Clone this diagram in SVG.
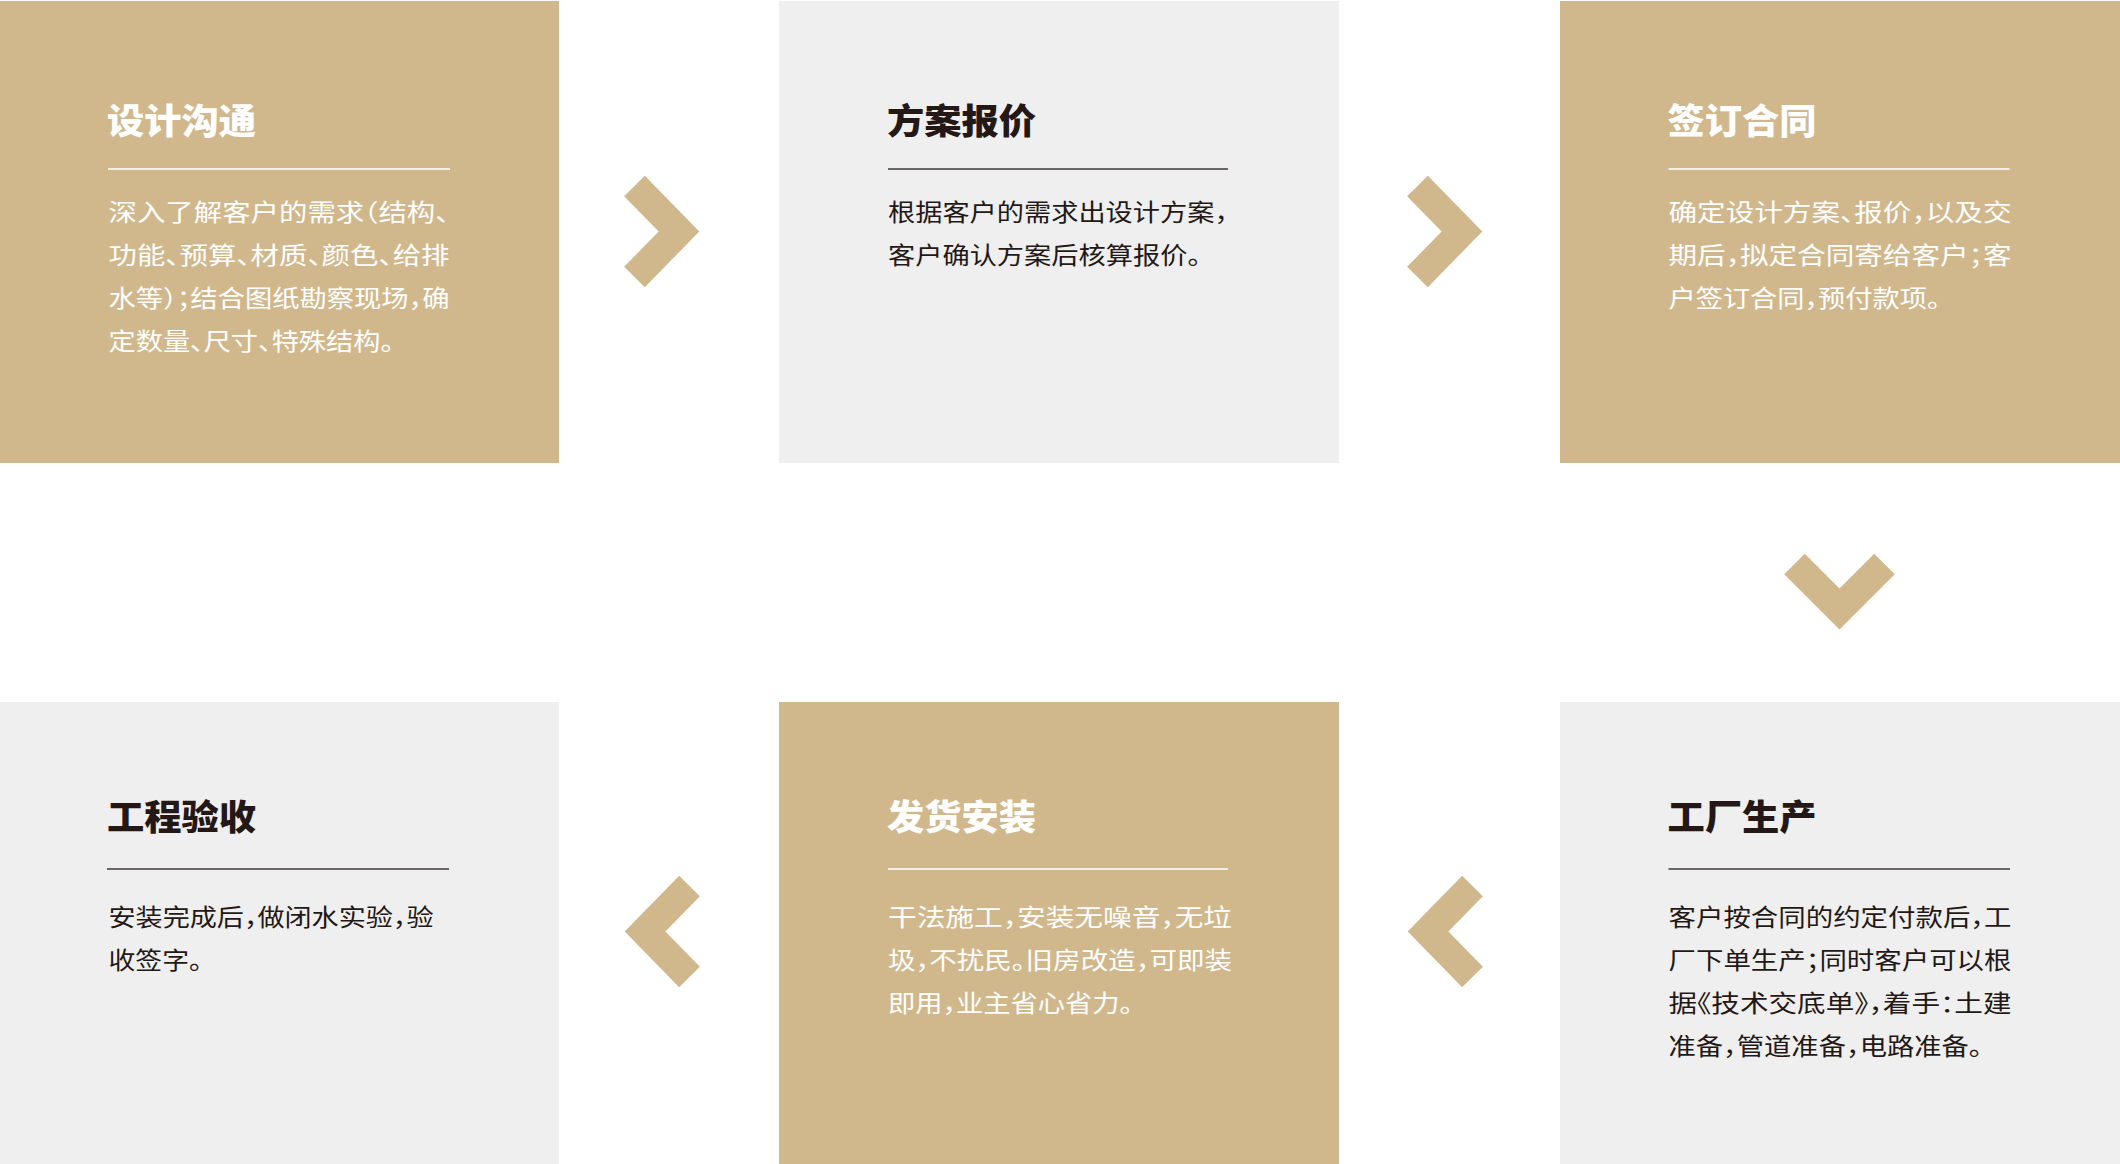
<svg xmlns="http://www.w3.org/2000/svg" width="2120" height="1164" viewBox="0 0 2120 1164">
<style>
.gold{fill:#D1B88C}
.gray{fill:#EFEFEF}
.t{font-family:"Noto Sans CJK SC","Noto Sans",sans-serif;font-size:35px;font-weight:900}
.b{font-family:"Noto Sans CJK SC","Noto Sans",sans-serif;font-size:24px;font-weight:400;font-feature-settings:"halt" 1}
.w{fill:#FFFFFF}
.d{fill:#231815}
.lw{stroke:#FFFFFF;stroke-width:1.6}
.ld{stroke:#3E3A39;stroke-width:1.6}
.chev{fill:none;stroke:#D1B88C;stroke-width:29;stroke-linecap:butt;stroke-linejoin:miter;stroke-miterlimit:10}
</style>
<rect x="0" y="0" width="2120" height="1164" fill="#FFFFFF"/>

<g id="node-1">
<rect class="gold" x="0" y="1" width="559" height="462"/>
<text class="t w" x="107" y="134" textLength="149" lengthAdjust="spacingAndGlyphs">设计沟通</text>
<line class="lw" x1="108" y1="169" x2="450" y2="169"/>
<text class="b w" x="108.5" y="221" textLength="341" lengthAdjust="spacingAndGlyphs">深入了解客户的需求（结构、</text>
<text class="b w" x="108.5" y="264" textLength="341" lengthAdjust="spacingAndGlyphs">功能、预算、材质、颜色、给排</text>
<text class="b w" x="108.5" y="307" textLength="341" lengthAdjust="spacingAndGlyphs">水等）；结合图纸勘察现场，确</text>
<text class="b w" x="108.5" y="350" textLength="285.5" lengthAdjust="spacingAndGlyphs">定数量、尺寸、特殊结构。</text>
</g>

<g id="node-2">
<rect class="gray" x="779" y="1" width="560" height="462"/>
<text class="t d" x="887" y="134" textLength="149" lengthAdjust="spacingAndGlyphs">方案报价</text>
<line class="ld" x1="888" y1="169" x2="1228" y2="169"/>
<text class="b d" x="888" y="221" textLength="340" lengthAdjust="spacingAndGlyphs">根据客户的需求出设计方案，</text>
<text class="b d" x="888" y="264" textLength="313" lengthAdjust="spacingAndGlyphs">客户确认方案后核算报价。</text>
</g>

<g id="node-3">
<rect class="gold" x="1560" y="1" width="560" height="462"/>
<text class="t w" x="1667.5" y="134" textLength="149" lengthAdjust="spacingAndGlyphs">签订合同</text>
<line class="lw" x1="1668.5" y1="169" x2="2009.5" y2="169"/>
<text class="b w" x="1668.5" y="221" textLength="343" lengthAdjust="spacingAndGlyphs">确定设计方案、报价，以及交</text>
<text class="b w" x="1668.5" y="264" textLength="343" lengthAdjust="spacingAndGlyphs">期后，拟定合同寄给客户；客</text>
<text class="b w" x="1668.5" y="307" textLength="272" lengthAdjust="spacingAndGlyphs">户签订合同，预付款项。</text>
</g>

<g id="node-4">
<rect class="gray" x="0" y="702" width="559" height="462"/>
<text class="t d" x="107" y="830" textLength="149" lengthAdjust="spacingAndGlyphs">工程验收</text>
<line class="ld" x1="107" y1="869" x2="449" y2="869"/>
<text class="b d" x="108.5" y="926" textLength="325" lengthAdjust="spacingAndGlyphs">安装完成后，做闭水实验，验</text>
<text class="b d" x="108.5" y="969" textLength="94" lengthAdjust="spacingAndGlyphs">收签字。</text>
</g>

<g id="node-5">
<rect class="gold" x="779" y="702" width="560" height="462"/>
<text class="t w" x="887" y="830" textLength="149" lengthAdjust="spacingAndGlyphs">发货安装</text>
<line class="lw" x1="888" y1="869" x2="1228" y2="869"/>
<text class="b w" x="888" y="926" textLength="344" lengthAdjust="spacingAndGlyphs">干法施工，安装无噪音，无垃</text>
<text class="b w" x="888" y="969" textLength="344" lengthAdjust="spacingAndGlyphs">圾，不扰民。旧房改造，可即装</text>
<text class="b w" x="888" y="1012" textLength="245" lengthAdjust="spacingAndGlyphs">即用，业主省心省力。</text>
</g>

<g id="node-6">
<rect class="gray" x="1560" y="702" width="560" height="462"/>
<text class="t d" x="1667.5" y="830" textLength="149" lengthAdjust="spacingAndGlyphs">工厂生产</text>
<line class="ld" x1="1668.5" y1="869" x2="2010" y2="869"/>
<text class="b d" x="1668.5" y="926" textLength="343" lengthAdjust="spacingAndGlyphs">客户按合同的约定付款后，工</text>
<text class="b d" x="1668.5" y="969" textLength="343" lengthAdjust="spacingAndGlyphs">厂下单生产；同时客户可以根</text>
<text class="b d" x="1668.5" y="1012" textLength="343" lengthAdjust="spacingAndGlyphs">据《技术交底单》，着手：土建</text>
<text class="b d" x="1668.5" y="1055" textLength="314" lengthAdjust="spacingAndGlyphs">准备，管道准备，电路准备。</text>
</g>

<g id="connectors">
<path class="chev" d="M634.5,186 L679,231.5 L634.5,277"/>
<path class="chev" d="M1417.5,186 L1462,231.5 L1417.5,277"/>
<path class="chev" d="M1794.5,564 L1839.5,609 L1884.5,564"/>
<path class="chev" d="M689.5,886 L645,931.5 L689.5,977"/>
<path class="chev" d="M1472.5,886 L1428,931.5 L1472.5,977"/>
</g>
</svg>
